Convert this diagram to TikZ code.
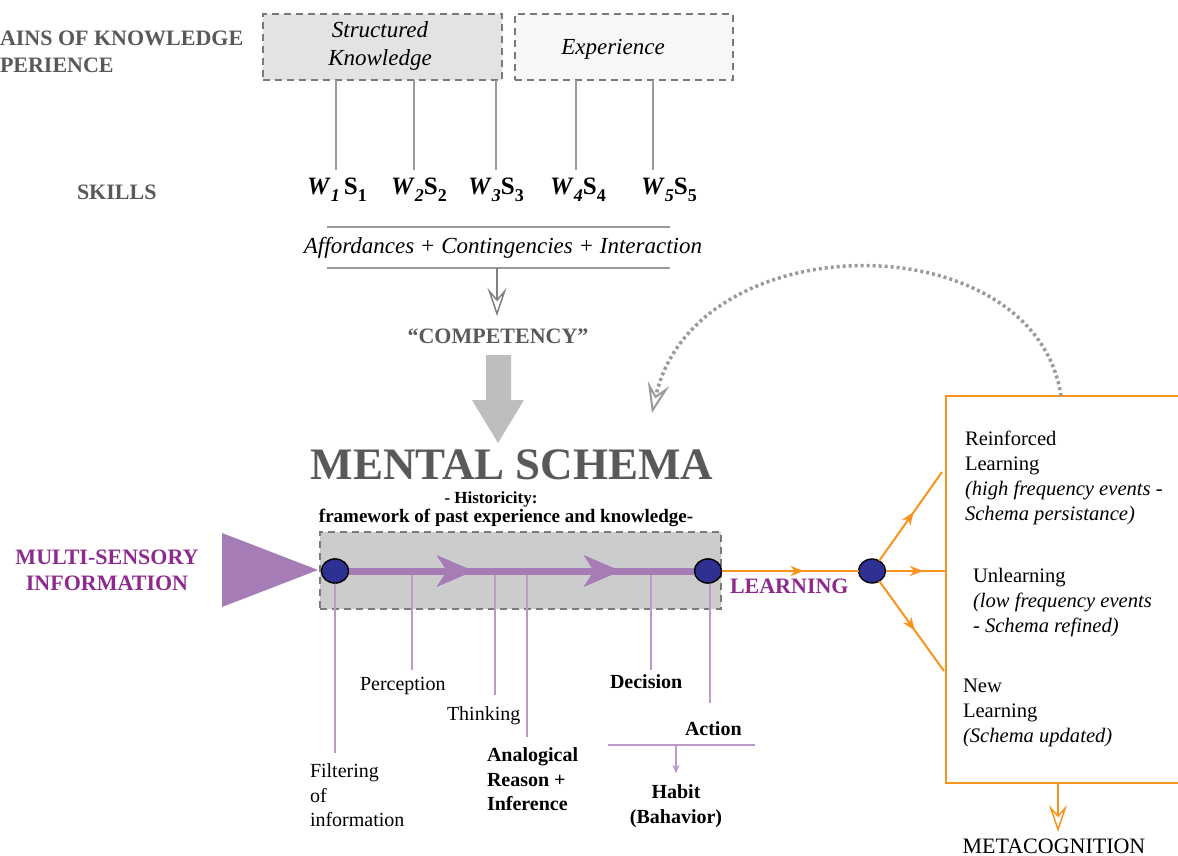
\documentclass[tikz,border=0pt]{standalone}
\usepackage{fontspec}
\setmainfont{Liberation Serif}
\usetikzlibrary{arrows.meta,decorations.markings,shapes.geometric}

\newcommand\fsz[2]{\fontsize{#1}{#2}\selectfont}
\newcommand\wsk[2]{\textbf{\textit{W}\raisebox{-0.28em}{\fsz{18}{18}\textit{#1}}#2S\raisebox{-0.28em}{\fsz{18}{18}#1}}}

\definecolor{txtgray}{HTML}{58595B}
\definecolor{boxgray}{HTML}{E3E3E3}
\definecolor{boxlight}{HTML}{F6F7F6}
\definecolor{rectgray}{HTML}{CBCCCB}
\definecolor{dashgray}{HTML}{7A7A7A}
\definecolor{linegray}{HTML}{9A9A9A}
\definecolor{arrowgray}{HTML}{BDBEC0}
\definecolor{purp}{HTML}{A67CB7}
\definecolor{purptxt}{HTML}{8E2A8E}
\definecolor{purpthin}{HTML}{BC98CB}
\definecolor{dotblue}{HTML}{2E3192}
\definecolor{orng}{HTML}{F7941D}

\begin{document}
\begin{tikzpicture}[x=1pt,y=-1pt,
  every node/.style={inner sep=0pt, outer sep=0pt},
  gtitle/.style={font=\bfseries\fsz{22}{27}, text=txtgray},
  knowbox/.style={draw=dashgray, line width=1.6pt, dash pattern=on 7pt off 5pt, anchor=north west},
  skl/.style={font=\fsz{25}{25}, anchor=base},
  vline/.style={draw=linegray, line width=1.5pt},
  gline/.style={draw=linegray, line width=1.5pt},
  reg/.style={font=\fsz{20}{24.5}},
  bld/.style={font=\bfseries\fsz{20}{24.5}},
  pthin/.style={draw=purpthin, line width=1.6pt},
  dot/.style={ellipse, minimum width=27pt, minimum height=24pt, fill=dotblue, draw=black, line width=1.3pt},
  orline/.style={draw=orng, line width=2pt},
  midarrow/.style={postaction={decorate}, decoration={markings,
     mark=at position #1 with {\arrow{Stealth[length=13pt,width=10pt,inset=4pt,line width=0.1pt]}}}},
  bigmid/.style={postaction={decorate}, decoration={markings,
     mark=at position #1 with {\arrow{Stealth[length=36pt,width=31pt,inset=10pt,line width=0.1pt]}}}},
  boxtxt/.style={font=\fsz{20.6}{25}, align=left, anchor=north west}
]
\useasboundingbox (0,0) rectangle (1178,856);

% ---- left titles
\node[gtitle, anchor=base west] (dom1) at (0,46) {AINS OF KNOWLEDGE};
\node[gtitle, anchor=base west] (dom2) at (0,73) {PERIENCE};
\node[gtitle, anchor=base west] (skills) at (77,199) {SKILLS};

% ---- knowledge boxes
\node[knowbox, fill=boxgray, minimum width=239pt, minimum height=66pt] (skbox) at (263,14) {};
\node[knowbox, fill=boxlight, minimum width=218pt, minimum height=66pt] (expbox) at (515,14) {};
\node[font=\itshape\fsz{23}{28}, align=center] (sktxt) at (380,46) {Structured\\Knowledge};
\node[font=\itshape\fsz{23}{23}, anchor=base] (exptxt) at (613,55) {Experience};

% ---- skills
\node[skl] (w1) at (337,194) {\wsk{1}{\,}};
\node[skl] (w2) at (419,194) {\wsk{2}{}};
\node[skl] (w3) at (496,194) {\wsk{3}{}};
\node[skl] (w4) at (578,194) {\wsk{4}{}};
\node[skl] (w5) at (669,194) {\wsk{5}{}};
\draw[vline] (skbox.south -| 336,0) -- (336,170);
\draw[vline] (skbox.south -| 414,0) -- (414,170);
\draw[vline] (skbox.south -| 496,0) -- (496,170);
\draw[vline] (expbox.south -| 576,0) -- (576,170);
\draw[vline] (expbox.south -| 653,0) -- (653,170);

% ---- affordances
\node[font=\itshape\fsz{23}{23}, anchor=base] (aff) at (503,253) {Affordances + Contingencies + Interaction};
\draw[gline] (327,227) -- (670,227);
\draw[gline] (327,268) -- (670,268);
\node[font=\bfseries\fsz{22}{22}, text=txtgray, anchor=base] (comp) at (498,343) {``COMPETENCY''};
\coordinate (affbot) at (497,268);
\coordinate (comptop) at (497,316);
\draw[draw=gray, line width=1.8pt, -{Stealth[open, length=28pt, width=19pt, inset=11pt, line width=1.5pt]}] (affbot) -- (comptop);

% ---- big block arrow
\fill[arrowgray] (486,355) -- (511,355) -- (511,400) -- (524,400) -- (498,443) -- (472,400) -- (486,400) -- cycle;

% ---- mental schema
\node[font=\bfseries\fsz{45}{45}, text=txtgray, anchor=base] (ms) at (512,479) {MENTAL SCHEMA};
\node[font=\bfseries\fsz{17}{17}, anchor=base] (hist) at (491,503) {- Historicity:};
\node[font=\bfseries\fsz{19}{19}, anchor=base] (frame) at (506,522) {framework of past experience and knowledge-};

% ---- gray schema frame
\node[draw=dashgray, line width=1.6pt, dash pattern=on 7pt off 5pt, fill=rectgray,
      minimum width=401pt, minimum height=77pt, anchor=north west] (schbox) at (320,532) {};

% ---- multisensory
\fill[purp] (222,533) -- (318,570) -- (222,607) -- cycle;
\node[font=\bfseries\fsz{22}{26}, text=purptxt, align=center] (msi) at (107,570) {MULTI-SENSORY\\INFORMATION};

% ---- dots
\node[dot] (d1) at (335,571) {};
\node[dot] (d2) at (708,571) {};
\node[dot] (d3) at (872,571) {};

% ---- thin purple stems
\draw[pthin] (d1.south) -- (335,753);
\draw[pthin] (412,571) -- (412,670);
\draw[pthin] (495,571) -- (495,695);
\draw[pthin] (527,571) -- (527,737);
\draw[pthin] (651,571) -- (651,670);
\draw[pthin] (d2.south -| 710,0) -- (710,703);

% ---- thick purple line
\draw[draw=purp, line width=7pt, bigmid=0.36, bigmid=0.785] (d1.east) -- (d2.west);
\node[dot] at (d1) {};
\node[dot] at (d2) {};

% ---- process labels
\node[reg, align=left, anchor=north west] (filt) at (310,764) {Filtering\\of\\information};
\node[reg, anchor=base west] (perc) at (360,690) {Perception};
\node[reg, anchor=base west] (think) at (447,720) {Thinking};
\node[bld, align=left, anchor=north west] (anal) at (487,748) {Analogical\\Reason +\\Inference};
\node[bld, anchor=base west] (dec) at (610,688) {Decision};
\node[bld, anchor=base west] (act) at (685,735) {Action};
\draw[pthin] (608,745) -- (755,745);
\node[bld, align=center] (habit) at (676,806) {Habit\\(Bahavior)};
\coordinate (acthub) at (676,745);
\draw[pthin, -{Stealth[length=9pt,width=7pt]}] (acthub) -- ([yshift=11pt]habit.north);

% ---- learning
\node[font=\bfseries\fsz{22}{22}, text=purptxt, anchor=base west] (learn) at (730,593) {LEARNING};
\draw[orline, midarrow=0.6] (d2.east) -- (d3.west);
\coordinate (b1) at (942,472);
\coordinate (b2) at (946,571);
\coordinate (b3) at (944,671);
\draw[orline, midarrow=0.55] (d3) -- (b1);
\draw[orline, midarrow=0.62] (d3.east) -- (b2);
\draw[orline, midarrow=0.55] (d3) -- (b3);

% ---- learning box
\coordinate (lbtr) at (1178,396);
\coordinate (lbtl) at (946,396);
\coordinate (lbbl) at (946,783);
\coordinate (lbbr) at (1178,783);
\draw[orline] (lbtr) -- (lbtl) -- (lbbl) -- (lbbr);
\node[boxtxt] (reinf) at (965,431) {Reinforced\\Learning\\\textit{(high frequency events -}\\\textit{Schema persistance)}};
\node[boxtxt] (unl) at (973,568) {Unlearning\\\textit{(low frequency events}\\\textit{- Schema refined)}};
\node[boxtxt] (newl) at (963,679.5) {New\\Learning\\\textit{(Schema updated)}};

% ---- metacognition
\node[font=\fsz{22}{22}, anchor=base] (meta) at (1054,853) {METACOGNITION};
\coordinate (lbbot) at (1058,783);
\coordinate (metatop) at (1058,832);
\draw[orline, line width=2.4pt, -{Stealth[open, length=27pt, width=18pt, inset=10pt, line width=1.5pt]}] (lbbot) -- (metatop);

% ---- feedback loop
\coordinate (fbstart) at (1061,396);
\coordinate (fbend) at (652,413);
\draw[draw=linegray, line width=3.5pt, dash pattern=on 3pt off 3pt,
      -{Stealth[open, length=30pt, width=22pt, inset=12pt, line width=2pt]}]
  (fbstart) .. controls (1035,222) and (695,222) .. (fbend);
\end{tikzpicture}
\end{document}
